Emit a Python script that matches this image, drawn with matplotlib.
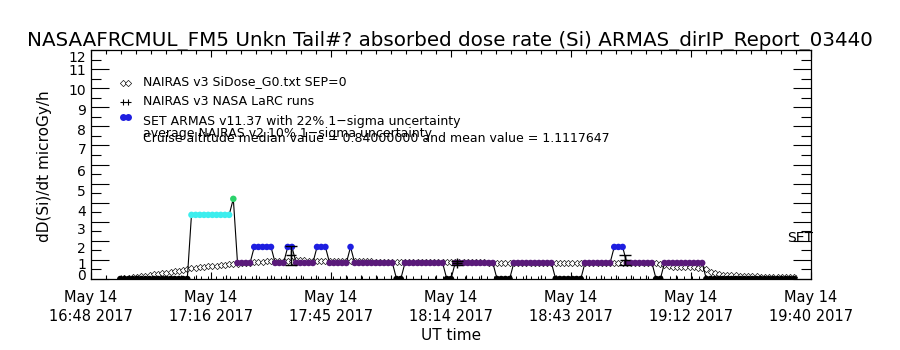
import numpy as np
import matplotlib
matplotlib.use('Agg')
import matplotlib.pyplot as plt
import matplotlib.ticker as ticker
import matplotlib.transforms as mtransforms
from matplotlib.colors import LinearSegmentedColormap, Normalize

# time axis: minutes after 16:48 UT, 14 May 2017
x_start, x_end = 0, 172
xtick_labels = ['May 14\n16:48 2017', 'May 14\n17:16 2017', 'May 14\n17:45 2017',
                'May 14\n18:14 2017', 'May 14\n18:43 2017', 'May 14\n19:12 2017',
                'May 14\n19:40 2017']
ytick_values = list(range(0, 13))
ytick_labels = [str(v) for v in ytick_values]

# SET ARMAS dose rate, one value per minute, minutes 7..168
armas_t = list(range(7, 169))
armas_v = ([0.0]*17 + [3.36]*10 + [4.2] + [0.84]*4 + [1.68]*5 + [0.84]*3 + [1.68]*2 +
           [0.84]*5 + [1.68]*3 + [0.84]*5 + [1.68] + [0.84]*10 + [0.0]*2 + [0.84]*10 +
           [0.0]*2 + [0.84]*10 + [0.0]*4 + [0.84]*10 + [0.0]*7 + [0.84]*7 + [1.68]*3 +
           [0.84]*7 + [0.0]*2 + [0.84]*10 + [0.0]*22)

# NAIRAS v3 SiDose, minutes 7..168
nairas_t = list(range(7, 169))
nairas_v = [0.02, 0.04, 0.06, 0.09, 0.12, 0.15, 0.18, 0.21, 0.24, 0.27, 0.30, 0.33, 0.36,
            0.40, 0.44, 0.48, 0.52,
            0.56, 0.59, 0.62, 0.64, 0.66, 0.68, 0.70, 0.72, 0.74, 0.76, 0.78,
            0.80, 0.82, 0.84, 0.86, 0.88, 0.90, 0.91, 0.92, 0.93, 0.94, 0.95, 0.95, 0.96,
            0.96, 0.97, 0.97, 0.97, 0.96, 0.96, 0.95, 0.95, 0.95, 0.94, 0.94, 0.94, 0.93,
            0.93, 0.93, 0.93, 0.92, 0.92, 0.92, 0.92, 0.91, 0.91, 0.91, 0.91, 0.90, 0.90,
            0.90, 0.90, 0.90, 0.89, 0.89, 0.89, 0.89, 0.89, 0.88, 0.88, 0.88, 0.88, 0.88,
            0.88, 0.87, 0.87, 0.87, 0.87, 0.87, 0.87, 0.87, 0.86, 0.86, 0.86, 0.86, 0.86,
            0.86, 0.86, 0.86, 0.86, 0.86, 0.85, 0.85, 0.85, 0.85, 0.85, 0.85, 0.85, 0.85,
            0.85, 0.85, 0.85, 0.85, 0.85, 0.85, 0.84, 0.84, 0.84, 0.84, 0.84, 0.84, 0.84,
            0.84, 0.84, 0.84, 0.84, 0.84, 0.84, 0.84, 0.84, 0.84, 0.84, 0.80,
            0.74, 0.68, 0.63, 0.62, 0.62, 0.61, 0.61, 0.61, 0.60, 0.60,
            0.50, 0.38, 0.30, 0.26, 0.23, 0.21, 0.20, 0.19, 0.18, 0.17, 0.16, 0.15, 0.14,
            0.13, 0.13, 0.12, 0.11, 0.11, 0.10, 0.10, 0.09, 0.09]

# NAIRAS v3 NASA LaRC runs with error bars
larc_t = [47.8, 87.4, 127.6]
larc_v = [1.25, 0.85, 1.0]
larc_err = [0.5, 0.1, 0.27]
# LaRC runs sitting at zero
larc_zero_t = np.arange(7, 169, 1.75)

title = 'NASAAFRCMUL_FM5 Unkn Tail#? absorbed dose rate (Si) ARMAS_dirIP_Report_03440'

cmap = LinearSegmentedColormap.from_list('armas', [(0.0, '#000000'), (0.2, '#5a1a7a'),
                                                   (0.4, '#1e1ee0'), (0.8, '#3ceeee'),
                                                   (1.0, '#2ad26a')])
norm = Normalize(0, 4.2)

fig = plt.figure(figsize=(9, 3.5), dpi=100)
ax = fig.add_axes([91/900, 1-279/350, 720/900, 229/350])

ax.plot(nairas_t, nairas_v, linestyle='none', marker='D', ms=3.2, mfc='white',
        mec='black', mew=0.45, zorder=2)
ax.plot(larc_zero_t, np.zeros(len(larc_zero_t)), linestyle='none', marker='+', ms=5,
        mew=0.7, color='black', zorder=2)
ax.plot(armas_t, armas_v, color='black', lw=0.8, zorder=3)
ax.scatter(armas_t, armas_v, c=armas_v, cmap=cmap, norm=norm, s=22, marker='o',
           edgecolors='none', zorder=4)
ax.errorbar(larc_t, larc_v, yerr=larc_err, fmt='+', color='black', ms=7, mew=1,
            elinewidth=1, capsize=4, zorder=5)

# IDL style legend
tr = ax.transAxes
ax.plot([0.044, 0.051], [0.856, 0.856], 'D', ms=3.2, mfc='white', mec='black',
        mew=0.45, transform=tr)
ax.plot([0.044, 0.051], [0.773, 0.773], '+', ms=5, mew=0.8, color='black', transform=tr)
ax.plot([0.044, 0.051], [0.707, 0.707], 'o', ms=5, color='#1e1ee0', mec='none',
        transform=tr)
fs = 9
ax.text(0.072, 0.847, 'NAIRAS v3 SiDose_G0.txt SEP=0', transform=tr, fontsize=fs,
        va='baseline')
ax.text(0.072, 0.760, 'NAIRAS v3 NASA LaRC runs', transform=tr, fontsize=fs,
        va='baseline')
ax.text(0.072, 0.672, 'SET ARMAS v11.37 with 22% 1\u2212sigma uncertainty',
        transform=tr, fontsize=fs, va='baseline')
ax.text(0.072, 0.620, 'average NAIRAS v2 10% 1\u2212sigma uncertainty', transform=tr,
        fontsize=fs, va='baseline')
ax.text(0.072, 0.598,
        'Cruise altitude median value = 0.84000000 and mean value = 1.1117647',
        transform=tr, fontsize=fs, va='baseline')
ax.text(0.9667, 0.1616, 'SET', transform=tr, fontsize=10, va='baseline', clip_on=False)

ax.set_xlim(x_start, x_end)
ax.set_ylim(0, 12)
ax.set_xticks(np.linspace(x_start, x_end, 7))
ax.set_xticklabels(xtick_labels, fontsize=10.5, linespacing=1.3)
ax.xaxis.set_minor_locator(ticker.AutoMinorLocator(8))
ax.set_yticks(ytick_values)
ax.set_yticklabels(ytick_labels)
ax.yaxis.set_minor_locator(ticker.AutoMinorLocator(2))
ax.tick_params(axis='x', which='major', direction='in', length=5, width=0.8, top=True,
               pad=8)
ax.tick_params(axis='x', which='minor', direction='in', length=3, width=0.8, top=True)
ax.tick_params(axis='y', which='major', direction='in', length=13, width=0.8, right=True,
               labelsize=10, pad=3.5)
ax.tick_params(axis='y', which='minor', direction='in', length=7, width=0.8, right=True)
for s in ax.spines.values():
    s.set_linewidth(0.9)

# the y labels sit a little off their ticks in the original, shift them (pixels down)
ylabel_shift = [-5, 4, 6.5, 7, 8, 7, 6, 3.5, 3, 2, 1, 0, 7]
for lab, d in zip(ax.get_yticklabels(), ylabel_shift):
    lab.set_transform(lab.get_transform() +
                      mtransforms.ScaledTranslation(0, -d/100, fig.dpi_scale_trans))

fig.text(0.5, 1-46/350, title, ha='center', va='baseline', fontsize=14.3)
fig.text(451/900, 1-340/350, 'UT time', ha='center', va='baseline', fontsize=11)
fig.text(45/900, 1-166/350, 'dD(Si)/dt microGy/h', ha='center', va='center',
         rotation=90, fontsize=11)

fig.savefig('out.png', dpi=100)
